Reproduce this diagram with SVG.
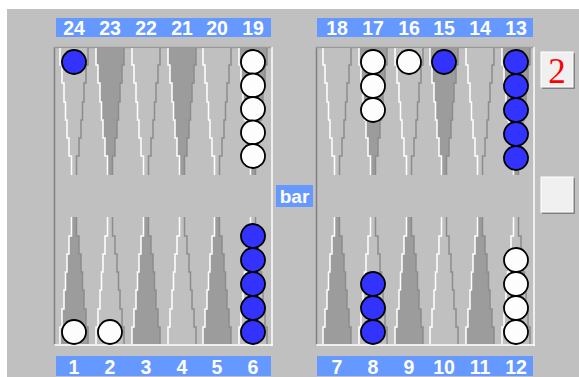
<svg xmlns="http://www.w3.org/2000/svg" xmlns:xlink="http://www.w3.org/1999/xlink" width="579" height="377" viewBox="0 0 579 377">
<style>
.lbl{fill:#6699ff}
.num{font-family:"Liberation Sans",Arial,sans-serif;font-weight:bold;font-size:19.5px;fill:#ffffff;text-anchor:middle}
.w{fill:#fdfdfd;stroke:#000;stroke-width:1.8}
.b{fill:#3333ff;stroke:#000;stroke-width:1.8}
.hl{fill:none;stroke:#ffffff;stroke-width:1.5}
.sh{fill:none;stroke:#8c8c8c;stroke-width:1.5}
</style>
<defs>
<polygon id="tri" points="-14,0 -14,17 -12,17 -12,35 -10,35 -10,54 -8.5,54 -8.5,72 -7,72 -7,90 -5,90 -5,108 -2.5,108 -2.5,127 2.5,127 2.5,108 5,108 5,90 7,90 7,72 8.5,72 8.5,54 10,54 10,35 12,35 12,17 14,17 14,0"/>
<polyline id="le" points="-14,0 -14,17 -12,17 -12,35 -10,35 -10,54 -8.5,54 -8.5,72 -7,72 -7,90 -5,90 -5,108 -2.5,108 -2.5,127"/>
<polyline id="re" points="2.5,127 2.5,108 5,108 5,90 7,90 7,72 8.5,72 8.5,54 10,54 10,35 12,35 12,17 14,17 14,0"/>
<g id="pl"><use xlink:href="#tri" fill="#c0c0c0"/><use xlink:href="#re" class="sh"/><use xlink:href="#le" class="hl"/></g>
<g id="pd"><use xlink:href="#tri" fill="#9c9c9c"/><use xlink:href="#re" class="sh"/><use xlink:href="#le" class="hl"/></g>
</defs>
<rect x="0" y="0" width="579" height="377" fill="#ffffff"/>
<rect x="7" y="9" width="572" height="368" fill="#c0c0c0"/>

<g id="labels-top">
<rect class="lbl" x="56" y="18" width="215" height="19"/>
<rect class="lbl" x="317" y="18" width="216" height="19"/>
<text class="num" x="74" y="35">24</text><text class="num" x="110" y="35">23</text><text class="num" x="146" y="35">22</text><text class="num" x="182" y="35">21</text><text class="num" x="217" y="35">20</text><text class="num" x="253" y="35">19</text>
<text class="num" x="337" y="35">18</text><text class="num" x="373" y="35">17</text><text class="num" x="409" y="35">16</text><text class="num" x="444" y="35">15</text><text class="num" x="480" y="35">14</text><text class="num" x="516" y="35">13</text>
</g>
<g id="labels-bottom">
<rect class="lbl" x="56" y="356" width="215" height="20"/>
<rect class="lbl" x="317" y="356" width="216" height="20"/>
<text class="num" x="74" y="374">1</text><text class="num" x="110" y="374">2</text><text class="num" x="146" y="374">3</text><text class="num" x="182" y="374">4</text><text class="num" x="217" y="374">5</text><text class="num" x="253" y="374">6</text>
<text class="num" x="337" y="374">7</text><text class="num" x="373" y="374">8</text><text class="num" x="409" y="374">9</text><text class="num" x="444" y="374">10</text><text class="num" x="480" y="374">11</text><text class="num" x="516" y="374">12</text>
</g>

<g id="board-left">
<line x1="54.5" y1="47" x2="54.5" y2="346" stroke="#808080" stroke-width="1.5"/>
<line x1="54" y1="47.5" x2="272" y2="47.5" stroke="#9a9a9a" stroke-width="1.5"/>
<line x1="272" y1="47" x2="272" y2="346" stroke="#ffffff" stroke-width="1.5"/>
<line x1="54" y1="345" x2="273" y2="345" stroke="#ffffff" stroke-width="1.5"/>
<use xlink:href="#pl" transform="translate(74,48)"/>
<use xlink:href="#pd" transform="translate(110,48)"/>
<use xlink:href="#pl" transform="translate(146,48)"/>
<use xlink:href="#pd" transform="translate(182,48)"/>
<use xlink:href="#pl" transform="translate(217,48)"/>
<use xlink:href="#pd" transform="translate(253,48)"/>
<use xlink:href="#pd" transform="translate(74,344) scale(1,-1)"/>
<use xlink:href="#pl" transform="translate(110,344) scale(1,-1)"/>
<use xlink:href="#pd" transform="translate(146,344) scale(1,-1)"/>
<use xlink:href="#pl" transform="translate(182,344) scale(1,-1)"/>
<use xlink:href="#pd" transform="translate(217,344) scale(1,-1)"/>
<use xlink:href="#pl" transform="translate(253,344) scale(1,-1)"/>
</g>
<g id="board-right">
<line x1="316.5" y1="47" x2="316.5" y2="346" stroke="#808080" stroke-width="1.5"/>
<line x1="316" y1="47.5" x2="534" y2="47.5" stroke="#9a9a9a" stroke-width="1.5"/>
<line x1="534" y1="47" x2="534" y2="346" stroke="#ffffff" stroke-width="1.5"/>
<line x1="316" y1="345" x2="535" y2="345" stroke="#ffffff" stroke-width="1.5"/>
<use xlink:href="#pl" transform="translate(337,48)"/>
<use xlink:href="#pd" transform="translate(373,48)"/>
<use xlink:href="#pl" transform="translate(409,48)"/>
<use xlink:href="#pd" transform="translate(444,48)"/>
<use xlink:href="#pl" transform="translate(480,48)"/>
<use xlink:href="#pd" transform="translate(516,48)"/>
<use xlink:href="#pd" transform="translate(337,344) scale(1,-1)"/>
<use xlink:href="#pl" transform="translate(373,344) scale(1,-1)"/>
<use xlink:href="#pd" transform="translate(409,344) scale(1,-1)"/>
<use xlink:href="#pl" transform="translate(444,344) scale(1,-1)"/>
<use xlink:href="#pd" transform="translate(480,344) scale(1,-1)"/>
<use xlink:href="#pl" transform="translate(516,344) scale(1,-1)"/>
</g>

<g id="checkers">
<circle class="b" cx="74" cy="62" r="12"/>
<circle class="w" cx="253" cy="62" r="12"/><circle class="w" cx="253" cy="85.5" r="12"/><circle class="w" cx="253" cy="109" r="12"/><circle class="w" cx="253" cy="132.5" r="12"/><circle class="w" cx="253" cy="156" r="12"/>
<circle class="w" cx="373" cy="62" r="12"/><circle class="w" cx="373" cy="86" r="12"/><circle class="w" cx="373" cy="110" r="12"/>
<circle class="w" cx="409" cy="62" r="12"/>
<circle class="b" cx="444" cy="62" r="12"/>
<circle class="b" cx="516" cy="62" r="12"/><circle class="b" cx="516" cy="86" r="12"/><circle class="b" cx="516" cy="110" r="12"/><circle class="b" cx="516" cy="134" r="12"/><circle class="b" cx="516" cy="158" r="12"/>
<circle class="w" cx="74" cy="332" r="12"/>
<circle class="w" cx="110" cy="332" r="12"/>
<circle class="b" cx="253" cy="332" r="12"/><circle class="b" cx="253" cy="308" r="12"/><circle class="b" cx="253" cy="284" r="12"/><circle class="b" cx="253" cy="260" r="12"/><circle class="b" cx="253" cy="236" r="12"/>
<circle class="b" cx="373" cy="332" r="12"/><circle class="b" cx="373" cy="308" r="12"/><circle class="b" cx="373" cy="284" r="12"/>
<circle class="w" cx="516" cy="332" r="12"/><circle class="w" cx="516" cy="308" r="12"/><circle class="w" cx="516" cy="284" r="12"/><circle class="w" cx="516" cy="260" r="12"/>
</g>

<g id="bar">
<rect class="lbl" x="276" y="185" width="37" height="22"/>
<text class="num" x="294.5" y="203" style="font-size:19px">bar</text>
</g>

<g id="die">
<rect x="542" y="53" width="33" height="36" fill="#808080" rx="1"/>
<rect x="541" y="52" width="32" height="35" fill="#f0f0f0" stroke="#ffffff" stroke-width="1"/>
<text x="557" y="83" font-family="'Liberation Serif','Times New Roman',serif" font-size="35" fill="#ff0000" text-anchor="middle">2</text>
</g>
<g id="button">
<rect x="542" y="178" width="33" height="36" fill="#808080" rx="1"/>
<rect x="541" y="177" width="32" height="35" fill="#f0f0f0" stroke="#ffffff" stroke-width="1"/>
</g>
</svg>
